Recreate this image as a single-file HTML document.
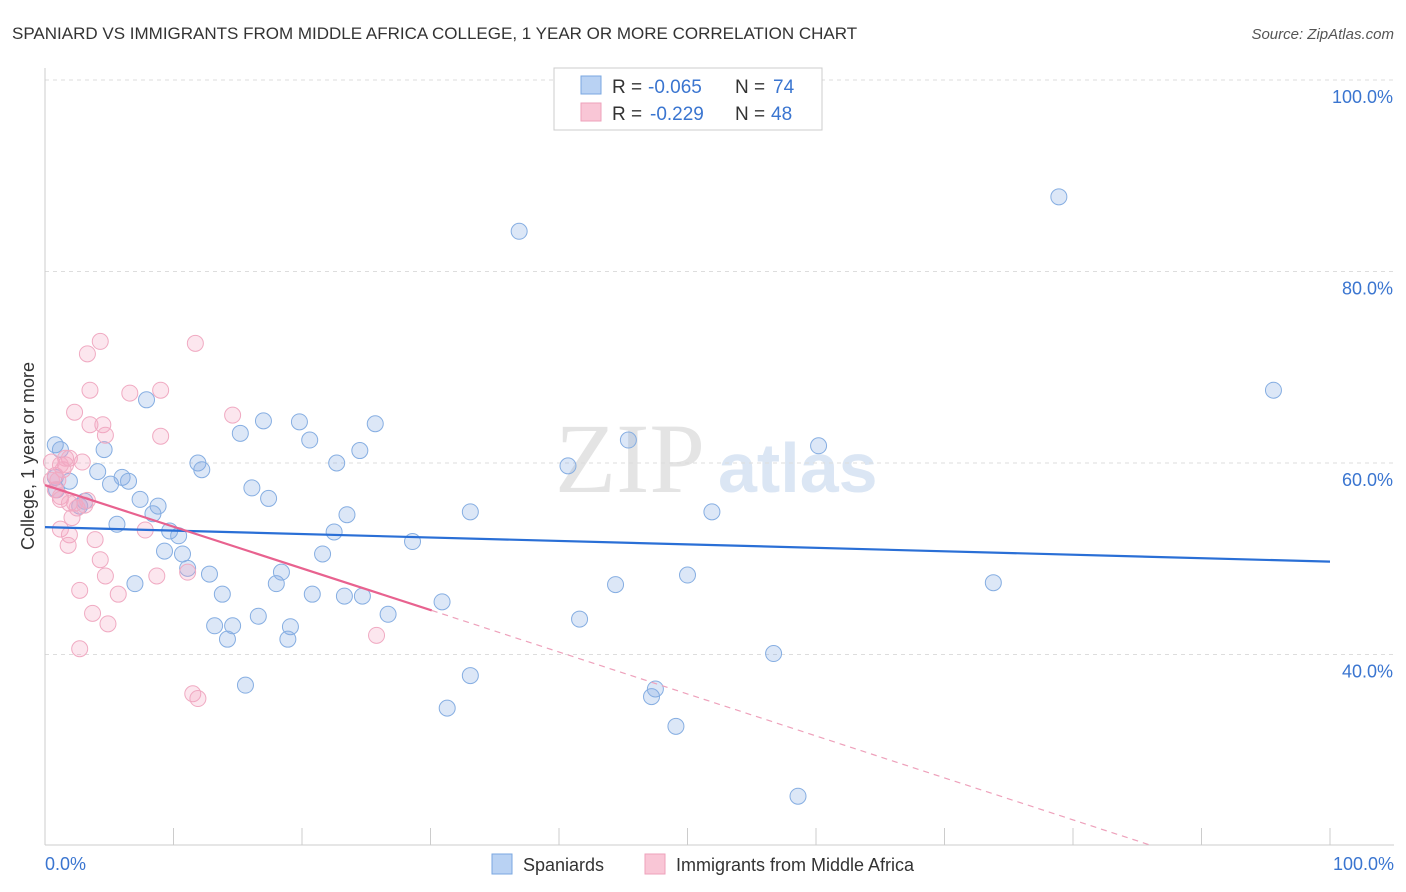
<!DOCTYPE html>
<html><head><meta charset="utf-8">
<style>
body{margin:0;background:#fff;font-family:"Liberation Sans",sans-serif;}
#wrap{position:relative;width:1406px;height:892px;overflow:hidden;}
</style></head>
<body>
<div id="wrap">
<svg id="svg" width="1406" height="892" xmlns="http://www.w3.org/2000/svg">
<text x="12" y="39" font-size="17" fill="#333">SPANIARD VS IMMIGRANTS FROM MIDDLE AFRICA COLLEGE, 1 YEAR OR MORE CORRELATION CHART</text>
<text x="1394" y="39" font-size="15" fill="#555" font-style="italic" text-anchor="end">Source: ZipAtlas.com</text>
<text x="555" y="492" font-size="100" fill="#e4e4e4" font-family="Liberation Serif,serif">ZIP</text>
<text x="718" y="492" font-size="70" fill="#dbe6f4" font-weight="bold">atlas</text>
<g id="grid"></g>
<g id="axes"></g>
<g id="pts"></g>
<g id="lines"></g>
<text transform="translate(34,456) rotate(-90)" font-size="18" fill="#333" text-anchor="middle">College, 1 year or more</text>
<text x="45" y="870" font-size="18" fill="#3a75d0">0.0%</text>
<text x="1394" y="870" font-size="18" fill="#3a75d0" text-anchor="end">100.0%</text>
<g>
<rect x="554" y="68" width="268" height="62" fill="#fff" stroke="#ccc"/>
<rect x="581" y="76" width="20" height="18" fill="#b9d2f3" stroke="#7aa7e0"/>
<rect x="581" y="103" width="20" height="18" fill="#f9c6d6" stroke="#eea1bb"/>
<text x="612" y="93" font-size="19" fill="#333">R =</text>
<text x="648" y="93" font-size="19" fill="#3a75d0">-0.065</text>
<text x="735" y="93" font-size="19" fill="#333">N =</text>
<text x="773" y="93" font-size="19" fill="#3a75d0">74</text>
<text x="612" y="120" font-size="19" fill="#333">R =</text>
<text x="650" y="120" font-size="19" fill="#3a75d0">-0.229</text>
<text x="735" y="120" font-size="19" fill="#333">N =</text>
<text x="771" y="120" font-size="19" fill="#3a75d0">48</text>
</g>
<g>
<rect x="492" y="854" width="20" height="20" fill="#b9d2f3" stroke="#7aa7e0"/>
<text x="523" y="871" font-size="18" fill="#333">Spaniards</text>
<rect x="645" y="854" width="20" height="20" fill="#f9c6d6" stroke="#eea1bb"/>
<text x="676" y="871" font-size="18" fill="#333">Immigrants from Middle Africa</text>
</g>
</svg>
</div>
<script>
const yTicks=[40,60,80,100];
const yTickLabels=["40.0%","60.0%","80.0%","100.0%"];
const xTicks=[0,10,20,30,40,50,60,70,80,90,100];
const blueX=[0.8,1.2,1.9,0.9,0.8,4.6,4.1,5.1,6.0,6.5,5.6,7.0,2.7,3.1,7.4,7.9,8.8,8.4,9.3,9.7,10.4,10.7,11.1,11.9,12.2,12.8,13.8,13.2,14.6,14.2,15.2,15.6,16.1,16.6,17.0,17.4,18.0,18.4,19.1,18.9,19.8,20.6,20.8,21.6,22.5,22.7,23.3,23.5,24.5,24.7,25.7,26.7,28.6,30.9,31.3,33.1,33.1,36.9,40.7,41.6,44.4,45.4,47.2,47.5,49.1,50.0,51.9,56.7,58.6,60.2,73.8,78.9,95.6];
const blueY=[61.9,61.4,58.1,57.2,58.5,61.4,59.1,57.8,58.5,58.1,53.6,47.4,55.5,56.0,56.2,66.6,55.5,54.7,50.8,52.9,52.4,50.5,49.0,60.0,59.3,48.4,46.3,43.0,43.0,41.6,63.1,36.8,57.4,44.0,64.4,56.3,47.4,48.6,42.9,41.6,64.3,62.4,46.3,50.5,52.8,60.0,46.1,54.6,61.3,46.1,64.1,44.2,51.8,45.5,34.4,54.9,37.8,84.2,59.7,43.7,47.3,62.4,35.6,36.4,32.5,48.3,54.9,40.1,25.2,61.8,47.5,87.8,67.6];
const pinkX=[0.8,0.5,0.5,0.8,1.2,1.2,1.6,1.9,2.3,1.2,1.9,2.1,1.8,2.5,2.9,3.3,2.7,3.3,3.5,3.7,3.9,4.3,4.3,4.5,4.7,4.7,4.9,5.7,6.6,7.8,8.7,9.0,9.0,11.1,11.7,11.5,11.9,14.6,25.8,2.7,3.5,1.4,1.0,1.9,3.1,1.6,1.2,2.3];
const pinkY=[58.7,60.1,58.2,57.2,56.5,56.2,59.8,60.5,65.3,53.1,52.5,54.3,51.4,55.3,60.1,56.1,46.7,71.4,67.6,44.3,52.0,72.7,49.9,64.0,62.9,48.2,43.2,46.3,67.3,53.0,48.2,67.6,62.8,48.6,72.5,35.9,35.4,65.0,42.0,40.6,64.0,59.3,58.2,55.8,55.6,60.5,59.8,55.8];
const blueTrend=[[0,53.3],[100,49.7]];
const pinkTrend=[[0,57.7],[30.1,44.6]];
const pinkDash=[[30.1,44.6],[86,20.1]];
const NS="http://www.w3.org/2000/svg";
const xs=v=>45+v*12.85;
const ys=v=>463-(v-60)*9.575;
function mk(t,a,p){const e=document.createElementNS(NS,t);for(const k in a)e.setAttribute(k,a[k]);p.appendChild(e);return e;}
const grid=document.getElementById('grid'),axes=document.getElementById('axes'),pts=document.getElementById('pts'),lines=document.getElementById('lines');
yTicks.forEach((t,i)=>{
 const l=mk('line',{x1:45,x2:1394,y1:ys(t),y2:ys(t),stroke:'#ddd','stroke-dasharray':'4,4'},grid);
 
 
 const tx=mk('text',{x:1393,y:ys(t)+23,'font-size':18,fill:'#3a75d0','text-anchor':'end'},grid);
 tx.textContent=yTickLabels[i];
 
 
});
const ax=mk('line',{x1:45,x2:1394,y1:845,y2:845,stroke:'#ccc'},axes);


const ay=mk('line',{x1:45,x2:45,y1:68,y2:845,stroke:'#ccc'},axes);


xTicks.forEach(t=>{
 const l=mk('line',{x1:xs(t),x2:xs(t),y1:828,y2:845,stroke:'#ccc'},axes);
 
 
});
blueX.forEach((x,i)=>{
 const c=mk('circle',{cx:xs(x),cy:ys(blueY[i]),r:8,fill:'rgba(130,170,228,0.28)',stroke:'#86aee2','stroke-width':1},pts);
 
 
});
pinkX.forEach((x,i)=>{
 const c=mk('circle',{cx:xs(x),cy:ys(pinkY[i]),r:8,fill:'rgba(245,165,195,0.28)',stroke:'#f0aac2','stroke-width':1},pts);
 
 
});
function seg(d,st,w,dash,name){
 const l=mk('line',{x1:xs(d[0][0]),y1:ys(d[0][1]),x2:xs(d[1][0]),y2:ys(d[1][1]),stroke:st,'stroke-width':w},lines);
 if(dash)l.setAttribute('stroke-dasharray',dash);
 
 
}
seg(blueTrend,'#2a6fd6',2.2,null,'spaniards-trendline');
seg(pinkTrend,'#e8628f',2.2,null,'middle-africa-trendline');
seg(pinkDash,'#eea1bb',1.2,'6,5','middle-africa-trendline-extension');
</script>
</body></html>
